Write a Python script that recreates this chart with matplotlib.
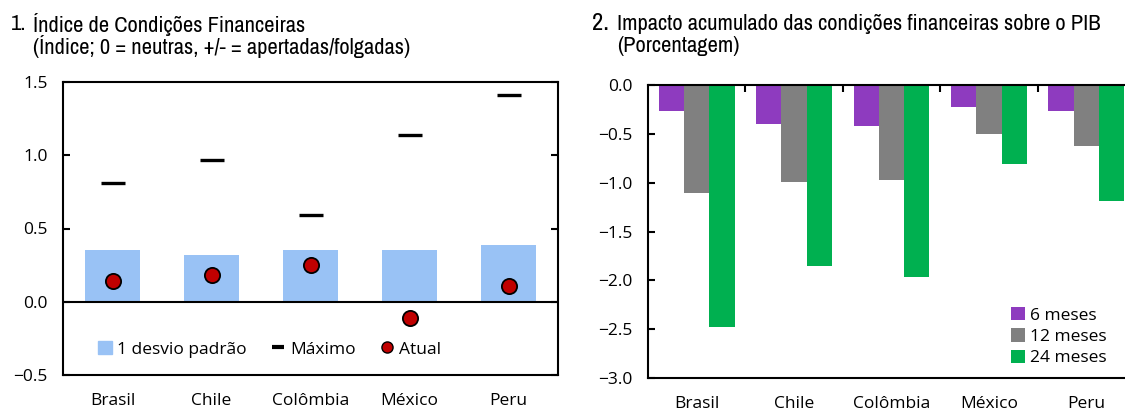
import matplotlib
matplotlib.use("Agg")
import matplotlib.pyplot as plt
from matplotlib import font_manager
from matplotlib.lines import Line2D
from matplotlib.patches import Patch
import numpy as np

countries = ["Brasil", "Chile", "Colômbia", "México", "Peru"]
# Panel 1
desvio = [0.35, 0.32, 0.35, 0.35, 0.39]
maximo = [0.81, 0.97, 0.59, 1.14, 1.41]
atual = [0.14, 0.18, 0.25, -0.11, 0.11]
# Panel 2
m6 = [-0.27, -0.40, -0.42, -0.23, -0.27]
m12 = [-1.11, -0.99, -0.97, -0.50, -0.62]
m24 = [-2.48, -1.85, -1.97, -0.81, -1.19]
series_labels = ["6 meses", "12 meses", "24 meses"]

# pick a narrow font for the titles if one exists
narrow = None
stretch = "normal"
for f in font_manager.fontManager.ttflist:
    if "Narrow" in f.name:
        narrow = f.name
        break
if narrow is None:
    for f in font_manager.fontManager.ttflist:
        st = f.stretch
        if isinstance(st, str) and "condensed" in st and f.name.startswith("DejaVu Sans") and "Mono" not in f.name:
            narrow = f.name
            stretch = st
            break
TITLE_FONT = narrow if narrow else "Liberation Sans"
TITLE_SIZE = 16.2 if narrow else 13
TICK_FONT = "Open Sans"
TS = 12.5

fig = plt.figure(figsize=(11.25, 4.12), dpi=100)

# ---------- Panel 1 ----------
ax1 = fig.add_axes([63/1125, 1-375/412, 495/1125, 293/412])
x = np.arange(len(countries))
ax1.bar(x, desvio, width=0.56, color="#99C2F5", zorder=1)
ax1.scatter(x, maximo, marker="_", s=280, linewidths=2.4, color="black", zorder=3)
ax1.scatter(x, atual, s=120, color="#C00000", edgecolors="black", linewidths=1.3, zorder=4)
ax1.axhline(0, color="black", lw=1.5, zorder=2)
ax1.set_xlim(-0.5, 4.5)
ax1.set_ylim(-0.5, 1.5)
ax1.set_yticks([-0.5, 0, 0.5, 1.0, 1.5])
ax1.set_yticklabels(["\u22120.5", "0.0", "0.5", "1.0", "1.5"])
ax1.set_xticks(x)
ax1.set_xticklabels(countries)
ax1.tick_params(axis="x", length=0, pad=13)
ax1.tick_params(axis="y", direction="in", left=True, right=True, length=5, width=1.5, pad=11)
for s in ax1.spines.values():
    s.set_linewidth(1.5)
for lab in ax1.get_xticklabels() + ax1.get_yticklabels():
    lab.set_fontfamily(TICK_FONT)
    lab.set_fontsize(TS)

h1 = [Patch(color="#99C2F5"),
      Line2D([], [], color="black", marker="_", ls="none", markersize=8, markeredgewidth=3),
      Line2D([], [], color="#C00000", marker="o", ls="none", markersize=8, markeredgecolor="black", markeredgewidth=1)]
ax1.legend(h1, ["1 desvio padrão", "Máximo", "Atual"], ncol=3, frameon=False,
           loc="center left", bbox_to_anchor=(0.07, 0.088), borderpad=0, borderaxespad=0,
           handlelength=0.8, handletextpad=0.3, columnspacing=1.4, handleheight=0.8,
           prop={"family": TICK_FONT, "size": TS})

tkw = dict(fontsize=TITLE_SIZE, family=TITLE_FONT, fontstretch=stretch, va="center")
fig.text(11/1125, 1-24/412, "1.", **tkw)
fig.text(33/1125, 1-24/412, "Índice de Condições Financeiras", **tkw)
fig.text(33/1125, 1-47/412, "(Índice; 0 = neutras, +/- = apertadas/folgadas)", **tkw)

# ---------- Panel 2 ----------
ax2 = fig.add_axes([648/1125, 1-378/412, 487/1125, 293/412])
w = 0.26
colors = ["#8E3BBF", "#808080", "#00B050"]
for i, (vals, c, lab) in enumerate(zip([m6, m12, m24], colors, series_labels)):
    ax2.bar(x + (i-1)*w, vals, width=w, color=c, label=lab, zorder=2)
ax2.set_xlim(-0.5, 4.5)
ax2.set_ylim(-3.0, 0.0)
ax2.set_yticks(np.arange(-3.0, 0.01, 0.5))
ax2.set_yticklabels(["\u22123.0", "\u22122.5", "\u22122.0", "\u22121.5", "\u22121.0", "\u22120.5", "0.0"])
ax2.set_xticks(np.arange(0.5, 4.0, 1.0))
ax2.set_xticks(x, minor=True)
ax2.set_xticklabels(countries, minor=True)
ax2.tick_params(axis="x", which="major", top=True, bottom=False, labelbottom=False,
                direction="in", length=5, width=1.5)
ax2.tick_params(axis="x", which="minor", length=0, pad=13)
ax2.tick_params(axis="y", direction="in", length=5, width=1.5, pad=11)
for s in ax2.spines.values():
    s.set_linewidth(1.5)
for lab in ax2.get_xticklabels(minor=True) + ax2.get_yticklabels():
    lab.set_fontfamily(TICK_FONT)
    lab.set_fontsize(TS)
ax2.legend(loc="upper left", bbox_to_anchor=(0.745, 0.242), frameon=False, borderpad=0,
           borderaxespad=0, handlelength=0.8, handleheight=0.8, handletextpad=0.3,
           labelspacing=0.27, prop={"family": TICK_FONT, "size": TS})

fig.text(592/1125, 1-24/412, "2.", **{**tkw, "fontsize": TITLE_SIZE + 1.5, "fontweight": "bold"})
fig.text(617/1125, 1-24/412, "Impacto acumulado das condições financeiras sobre o PIB", **tkw)
fig.text(617/1125, 1-46/412, "(Porcentagem)", **tkw)

fig.savefig("out.png", dpi=100)
